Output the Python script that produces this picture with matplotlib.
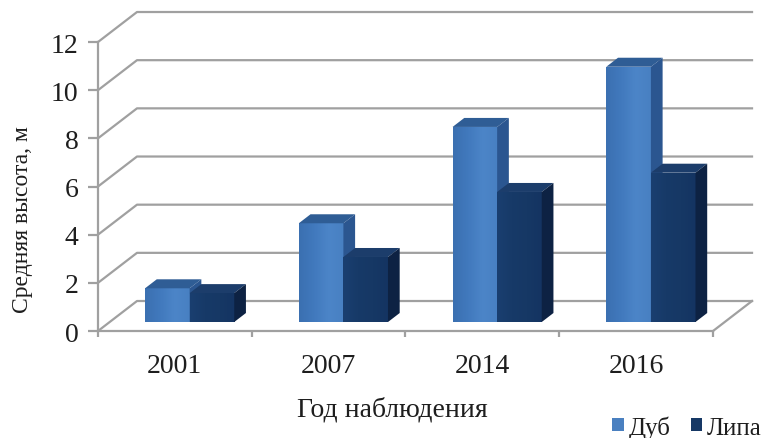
import numpy as np
import matplotlib.pyplot as plt
from matplotlib.patches import Polygon, Rectangle, Patch
from matplotlib.colors import LinearSegmentedColormap

years = ['2001', '2007', '2014', '2016']
oak = [1.4, 4.1, 8.1, 10.6]
linden = [1.2, 2.7, 5.4, 6.2]
series_names = ['Дуб', 'Липа']
yticks = [0, 2, 4, 6, 8, 10, 12]

plt.rcParams['font.family'] = ['Liberation Serif', 'DejaVu Serif']
text_c = '#1e1e1e'
grid_c = '#a0a0a0'

fig = plt.figure(figsize=(7.74, 4.39), dpi=100)
ax = fig.add_axes([0.1266, 0.2437, 0.7946, 0.6583])

# oblique offset of the back wall, in data units
DX, DY = 0.2537, 1.246

# back wall gridlines with their diagonals to the front axis
for v in yticks:
    ax.plot([0, DX, len(years) + DX], [v, v + DY, v + DY],
            color=grid_c, lw=1.6, clip_on=False, zorder=1)
ax.plot([len(years), len(years) + DX], [0, DY], color=grid_c, lw=1.6,
        clip_on=False, zorder=1)

# bar layout inside each category
L, W = 0.23, 0.29
d0, dd = 0.3, 0.3
sx, sy = d0 * DX, d0 * DY
bx, by = dd * DX, dd * DY

styles = [
    dict(front=['#3b70b1', '#4179bd', '#4c85c8', '#4880c2'], top='#2f5d95', side='#2b5690'),
    dict(front=['#1a3f70', '#173a68', '#163865', '#143462'], top='#1c3d6b', side='#0d2243'),
]

z = 2.0
for i in range(len(years)):
    for j, vals in enumerate([oak, linden]):
        st = styles[j]
        v = vals[i]
        x0 = i + L + j * W + sx
        y0 = sy
        yt = y0 + v
        # front face with a soft horizontal gradient
        rect = Rectangle((x0, y0), W, v, facecolor='none', edgecolor='none', zorder=z)
        ax.add_patch(rect)
        cmap = LinearSegmentedColormap.from_list('f%d' % j, st['front'])
        im = ax.imshow(np.linspace(0, 1, 64).reshape(1, -1), extent=[x0, x0 + W, y0, yt],
                       aspect='auto', cmap=cmap, zorder=z, interpolation='bilinear')
        im.set_clip_path(rect)
        # top and right side faces
        ax.add_patch(Polygon([(x0, yt), (x0 + W, yt), (x0 + W + bx, yt + by), (x0 + bx, yt + by)],
                             closed=True, facecolor=st['top'], edgecolor='none', zorder=z))
        ax.add_patch(Polygon([(x0 + W, y0), (x0 + W + bx, y0 + by), (x0 + W + bx, yt + by), (x0 + W, yt)],
                             closed=True, facecolor=st['side'], edgecolor='none', zorder=z))
        z += 0.1

ax.set_xlim(0, len(years))
ax.set_ylim(0, 12)

for s in ['top', 'right']:
    ax.spines[s].set_visible(False)
for s in ['left', 'bottom']:
    ax.spines[s].set_color(grid_c)
    ax.spines[s].set_linewidth(1.6)
    ax.spines[s].set_zorder(1)

ax.set_yticks(yticks)
ax.tick_params(axis='y', direction='out', length=7, width=1.6, color=grid_c,
               labelsize=20, labelcolor=text_c, pad=7)
ax.set_xticks(np.arange(len(years) + 1))
ax.set_xticklabels([])
ax.tick_params(axis='x', which='major', direction='out', length=4, width=1.6, color=grid_c)
ax.set_xticks(np.arange(len(years)) + 0.5, minor=True)
ax.set_xticklabels(years, minor=True)
ax.tick_params(axis='x', which='minor', length=0, labelsize=20, labelcolor=text_c, pad=16)

ax.set_ylabel('Средняя высота, м', fontsize=17, color=text_c)
ax.yaxis.set_label_coords(-0.105, 0.39)
ax.set_xlabel('Год наблюдения', fontsize=20, color=text_c)
ax.xaxis.set_label_coords(0.478, -0.225)

handles = [Patch(facecolor='#4a80c0', label=series_names[0]),
           Patch(facecolor='#163865', label=series_names[1])]
fig.legend(handles=handles, loc='lower right', bbox_to_anchor=(1.0, -0.03), ncol=2,
           frameon=False, fontsize=18, handlelength=0.45, handleheight=0.45,
           handletextpad=0.2, columnspacing=0.8, borderaxespad=0.1,
           labelcolor=text_c)

fig.savefig('out.png', dpi=100)
